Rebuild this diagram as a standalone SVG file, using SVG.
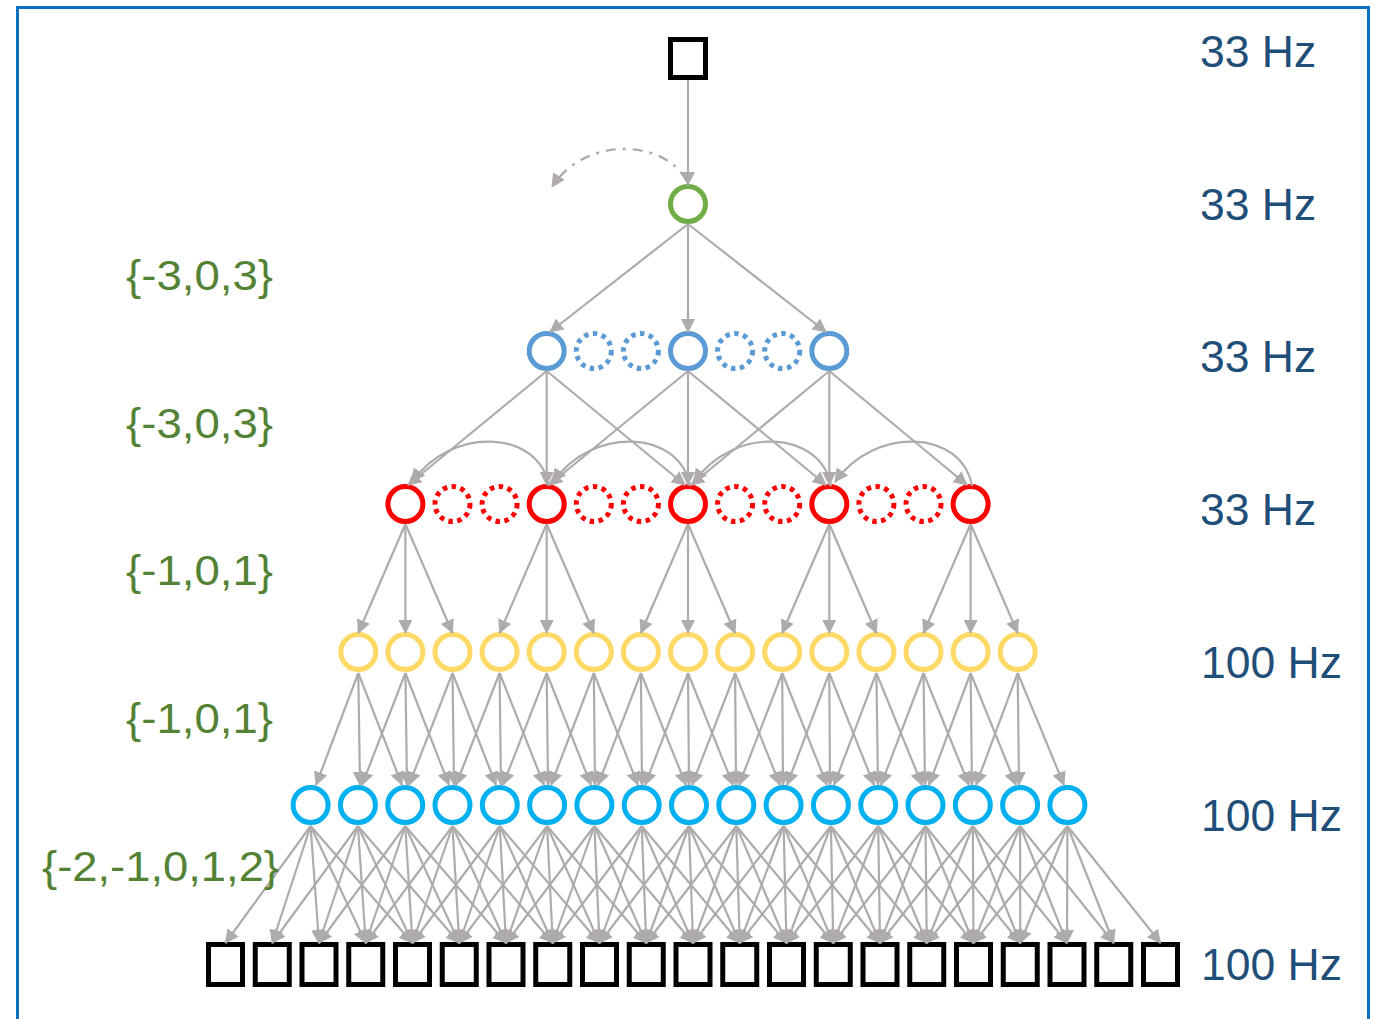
<svg xmlns="http://www.w3.org/2000/svg" width="1377" height="1019" viewBox="0 0 1377 1019">
  <style>
    .frame { fill: none; stroke: #0A70C0; stroke-width: 3; }
    .sq { fill: #FFFFFF; stroke: #000000; stroke-width: 5; }
    .node { fill: none; stroke-width: 5; }
    .g { stroke: #70AD47; }
    .b { stroke: #5B9BD5; }
    .r { stroke: #FF0000; }
    .y { stroke: #FFD966; }
    .c { stroke: #00B0F0; }
    .dot { stroke-dasharray: 4.5 4.5; }
    .e { fill: none; stroke: #AFABAB; stroke-width: 2.2; marker-end: url(#head); }
    .loop { stroke-width: 2.4; stroke-dasharray: 10 7 3 7; }
    .hz { font-family: "Liberation Sans", Arial, sans-serif; font-size: 44.5px; fill: #1F4E79; }
    .set { font-family: "Liberation Sans", Arial, sans-serif; font-size: 42px; fill: #548235; }
  </style>
  <defs>
    <marker id="head" viewBox="0 0 14 14" refX="13" refY="7" markerWidth="14" markerHeight="14" markerUnits="userSpaceOnUse" orient="auto">
      <path d="M0,0 L14,7 L0,14 z" fill="#AFABAB" stroke="none"/>
    </marker>
  </defs>

  <rect class="frame" x="17.5" y="7.5" width="1351" height="1040"/>

  <!-- top input -->
  <g id="input-top"><rect class="sq" x="670.5" y="39.5" width="35" height="38"/></g>

  <!-- root -->
  <g id="root"><circle class="node g" cx="688" cy="204" r="17.5"/></g>

  <!-- level 1 (blue) -->
  <g id="b-3"><circle class="node b" cx="546.7" cy="351" r="17.5"/></g>
  <g id="b-2"><circle class="node b dot" cx="593.8" cy="351" r="17.5"/></g>
  <g id="b-1"><circle class="node b dot" cx="640.9" cy="351" r="17.5"/></g>
  <g id="b0"><circle class="node b" cx="688" cy="351" r="17.5"/></g>
  <g id="b1"><circle class="node b dot" cx="735.1" cy="351" r="17.5"/></g>
  <g id="b2"><circle class="node b dot" cx="782.2" cy="351" r="17.5"/></g>
  <g id="b3"><circle class="node b" cx="829.3" cy="351" r="17.5"/></g>

  <!-- level 2 (red) -->
  <g id="r-6"><circle class="node r" cx="405.4" cy="504" r="17.5"/></g>
  <g id="r-5"><circle class="node r dot" cx="452.5" cy="504" r="17.5"/></g>
  <g id="r-4"><circle class="node r dot" cx="499.6" cy="504" r="17.5"/></g>
  <g id="r-3"><circle class="node r" cx="546.7" cy="504" r="17.5"/></g>
  <g id="r-2"><circle class="node r dot" cx="593.8" cy="504" r="17.5"/></g>
  <g id="r-1"><circle class="node r dot" cx="640.9" cy="504" r="17.5"/></g>
  <g id="r0"><circle class="node r" cx="688" cy="504" r="17.5"/></g>
  <g id="r1"><circle class="node r dot" cx="735.1" cy="504" r="17.5"/></g>
  <g id="r2"><circle class="node r dot" cx="782.2" cy="504" r="17.5"/></g>
  <g id="r3"><circle class="node r" cx="829.3" cy="504" r="17.5"/></g>
  <g id="r4"><circle class="node r dot" cx="876.4" cy="504" r="17.5"/></g>
  <g id="r5"><circle class="node r dot" cx="923.5" cy="504" r="17.5"/></g>
  <g id="r6"><circle class="node r" cx="970.6" cy="504" r="17.5"/></g>

  <!-- level 3 (yellow) -->
  <g id="y0"><circle class="node y" cx="358.3" cy="652" r="17.5"/></g>
  <g id="y1"><circle class="node y" cx="405.4" cy="652" r="17.5"/></g>
  <g id="y2"><circle class="node y" cx="452.5" cy="652" r="17.5"/></g>
  <g id="y3"><circle class="node y" cx="499.6" cy="652" r="17.5"/></g>
  <g id="y4"><circle class="node y" cx="546.7" cy="652" r="17.5"/></g>
  <g id="y5"><circle class="node y" cx="593.8" cy="652" r="17.5"/></g>
  <g id="y6"><circle class="node y" cx="640.9" cy="652" r="17.5"/></g>
  <g id="y7"><circle class="node y" cx="688" cy="652" r="17.5"/></g>
  <g id="y8"><circle class="node y" cx="735.1" cy="652" r="17.5"/></g>
  <g id="y9"><circle class="node y" cx="782.2" cy="652" r="17.5"/></g>
  <g id="y10"><circle class="node y" cx="829.3" cy="652" r="17.5"/></g>
  <g id="y11"><circle class="node y" cx="876.4" cy="652" r="17.5"/></g>
  <g id="y12"><circle class="node y" cx="923.5" cy="652" r="17.5"/></g>
  <g id="y13"><circle class="node y" cx="970.6" cy="652" r="17.5"/></g>
  <g id="y14"><circle class="node y" cx="1017.7" cy="652" r="17.5"/></g>

  <!-- level 4 (cyan) -->
  <g id="c0"><circle class="node c" cx="310.6" cy="805" r="17.5"/></g>
  <g id="c1"><circle class="node c" cx="357.9" cy="805" r="17.5"/></g>
  <g id="c2"><circle class="node c" cx="405.2" cy="805" r="17.5"/></g>
  <g id="c3"><circle class="node c" cx="452.5" cy="805" r="17.5"/></g>
  <g id="c4"><circle class="node c" cx="499.8" cy="805" r="17.5"/></g>
  <g id="c5"><circle class="node c" cx="547.1" cy="805" r="17.5"/></g>
  <g id="c6"><circle class="node c" cx="594.4" cy="805" r="17.5"/></g>
  <g id="c7"><circle class="node c" cx="641.7" cy="805" r="17.5"/></g>
  <g id="c8"><circle class="node c" cx="689" cy="805" r="17.5"/></g>
  <g id="c9"><circle class="node c" cx="736.3" cy="805" r="17.5"/></g>
  <g id="c10"><circle class="node c" cx="783.6" cy="805" r="17.5"/></g>
  <g id="c11"><circle class="node c" cx="830.9" cy="805" r="17.5"/></g>
  <g id="c12"><circle class="node c" cx="878.2" cy="805" r="17.5"/></g>
  <g id="c13"><circle class="node c" cx="925.5" cy="805" r="17.5"/></g>
  <g id="c14"><circle class="node c" cx="972.8" cy="805" r="17.5"/></g>
  <g id="c15"><circle class="node c" cx="1020.1" cy="805" r="17.5"/></g>
  <g id="c16"><circle class="node c" cx="1067.4" cy="805" r="17.5"/></g>

  <!-- output samples -->
  <g id="s0"><rect class="sq" x="208.5" y="944.5" width="34" height="40"/></g>
  <g id="s1"><rect class="sq" x="255.25" y="944.5" width="34" height="40"/></g>
  <g id="s2"><rect class="sq" x="302" y="944.5" width="34" height="40"/></g>
  <g id="s3"><rect class="sq" x="348.75" y="944.5" width="34" height="40"/></g>
  <g id="s4"><rect class="sq" x="395.5" y="944.5" width="34" height="40"/></g>
  <g id="s5"><rect class="sq" x="442.25" y="944.5" width="34" height="40"/></g>
  <g id="s6"><rect class="sq" x="489" y="944.5" width="34" height="40"/></g>
  <g id="s7"><rect class="sq" x="535.75" y="944.5" width="34" height="40"/></g>
  <g id="s8"><rect class="sq" x="582.5" y="944.5" width="34" height="40"/></g>
  <g id="s9"><rect class="sq" x="629.25" y="944.5" width="34" height="40"/></g>
  <g id="s10"><rect class="sq" x="676" y="944.5" width="34" height="40"/></g>
  <g id="s11"><rect class="sq" x="722.75" y="944.5" width="34" height="40"/></g>
  <g id="s12"><rect class="sq" x="769.5" y="944.5" width="34" height="40"/></g>
  <g id="s13"><rect class="sq" x="816.25" y="944.5" width="34" height="40"/></g>
  <g id="s14"><rect class="sq" x="863" y="944.5" width="34" height="40"/></g>
  <g id="s15"><rect class="sq" x="909.75" y="944.5" width="34" height="40"/></g>
  <g id="s16"><rect class="sq" x="956.5" y="944.5" width="34" height="40"/></g>
  <g id="s17"><rect class="sq" x="1003.25" y="944.5" width="34" height="40"/></g>
  <g id="s18"><rect class="sq" x="1050" y="944.5" width="34" height="40"/></g>
  <g id="s19"><rect class="sq" x="1096.75" y="944.5" width="34" height="40"/></g>
  <g id="s20"><rect class="sq" x="1143.5" y="944.5" width="34" height="40"/></g>

  <g id="connectors">
    <!-- input to root, and the recurrent loop -->
    <line class="e" x1="688" y1="80" x2="688" y2="185"/>
    <path class="e loop" d="M686 180 C665 140 585 135 552 187"/>

    <!-- root to level 1 -->
    <line class="e" x1="688" y1="224" x2="550" y2="332"/>
    <line class="e" x1="688" y1="224" x2="688" y2="332"/>
    <line class="e" x1="688" y1="224" x2="826" y2="332"/>

    <!-- level 1 to level 2 -->
    <line class="e" x1="546.7" y1="371" x2="408" y2="485"/>
    <line class="e" x1="546.7" y1="371" x2="546.7" y2="485"/>
    <line class="e" x1="546.7" y1="371" x2="685" y2="485"/>
    <line class="e" x1="688" y1="371" x2="549" y2="485"/>
    <line class="e" x1="688" y1="371" x2="688" y2="485"/>
    <line class="e" x1="688" y1="371" x2="826" y2="485"/>
    <line class="e" x1="829.3" y1="371" x2="691" y2="485"/>
    <line class="e" x1="829.3" y1="371" x2="829.3" y2="485"/>
    <line class="e" x1="829.3" y1="371" x2="967" y2="485"/>

    <!-- lateral links along level 2 -->
    <path class="e" d="M549 486 C539 430 452 425 412 482"/>
    <path class="e" d="M690 486 C680 430 593 425 553 482"/>
    <path class="e" d="M831 486 C821 430 734 425 694 482"/>
    <path class="e" d="M972 486 C962 430 875 425 835 482"/>

    <!-- level 2 to level 3 -->
    <line class="e" x1="405.4" y1="524" x2="358.3" y2="633"/>
    <line class="e" x1="405.4" y1="524" x2="405.4" y2="633"/>
    <line class="e" x1="405.4" y1="524" x2="452.5" y2="633"/>
    <line class="e" x1="546.7" y1="524" x2="499.6" y2="633"/>
    <line class="e" x1="546.7" y1="524" x2="546.7" y2="633"/>
    <line class="e" x1="546.7" y1="524" x2="593.8" y2="633"/>
    <line class="e" x1="688" y1="524" x2="640.9" y2="633"/>
    <line class="e" x1="688" y1="524" x2="688" y2="633"/>
    <line class="e" x1="688" y1="524" x2="735.1" y2="633"/>
    <line class="e" x1="829.3" y1="524" x2="782.2" y2="633"/>
    <line class="e" x1="829.3" y1="524" x2="829.3" y2="633"/>
    <line class="e" x1="829.3" y1="524" x2="876.4" y2="633"/>
    <line class="e" x1="970.6" y1="524" x2="923.5" y2="633"/>
    <line class="e" x1="970.6" y1="524" x2="970.6" y2="633"/>
    <line class="e" x1="970.6" y1="524" x2="1017.7" y2="633"/>

    <!-- level 3 to level 4 -->
    <line class="e" x1="358.3" y1="673" x2="316" y2="785"/>
    <line class="e" x1="358.3" y1="673" x2="360" y2="785"/>
    <line class="e" x1="358.3" y1="673" x2="402" y2="785"/>
    <line class="e" x1="405.4" y1="673" x2="362" y2="785"/>
    <line class="e" x1="405.4" y1="673" x2="407" y2="785"/>
    <line class="e" x1="405.4" y1="673" x2="449" y2="785"/>
    <line class="e" x1="452.5" y1="673" x2="409" y2="785"/>
    <line class="e" x1="452.5" y1="673" x2="454" y2="785"/>
    <line class="e" x1="452.5" y1="673" x2="496" y2="785"/>
    <line class="e" x1="499.6" y1="673" x2="456" y2="785"/>
    <line class="e" x1="499.6" y1="673" x2="501" y2="785"/>
    <line class="e" x1="499.6" y1="673" x2="544" y2="785"/>
    <line class="e" x1="546.7" y1="673" x2="503" y2="785"/>
    <line class="e" x1="546.7" y1="673" x2="548" y2="785"/>
    <line class="e" x1="546.7" y1="673" x2="591" y2="785"/>
    <line class="e" x1="593.8" y1="673" x2="551" y2="785"/>
    <line class="e" x1="593.8" y1="673" x2="595" y2="785"/>
    <line class="e" x1="593.8" y1="673" x2="638" y2="785"/>
    <line class="e" x1="640.9" y1="673" x2="598" y2="785"/>
    <line class="e" x1="640.9" y1="673" x2="642" y2="785"/>
    <line class="e" x1="640.9" y1="673" x2="686" y2="785"/>
    <line class="e" x1="688" y1="673" x2="645" y2="785"/>
    <line class="e" x1="688" y1="673" x2="689" y2="785"/>
    <line class="e" x1="688" y1="673" x2="733" y2="785"/>
    <line class="e" x1="735.1" y1="673" x2="692" y2="785"/>
    <line class="e" x1="735.1" y1="673" x2="736" y2="785"/>
    <line class="e" x1="735.1" y1="673" x2="780" y2="785"/>
    <line class="e" x1="782.2" y1="673" x2="739" y2="785"/>
    <line class="e" x1="782.2" y1="673" x2="783" y2="785"/>
    <line class="e" x1="782.2" y1="673" x2="827" y2="785"/>
    <line class="e" x1="829.3" y1="673" x2="787" y2="785"/>
    <line class="e" x1="829.3" y1="673" x2="830" y2="785"/>
    <line class="e" x1="829.3" y1="673" x2="874" y2="785"/>
    <line class="e" x1="876.4" y1="673" x2="834" y2="785"/>
    <line class="e" x1="876.4" y1="673" x2="878" y2="785"/>
    <line class="e" x1="876.4" y1="673" x2="922" y2="785"/>
    <line class="e" x1="923.5" y1="673" x2="881" y2="785"/>
    <line class="e" x1="923.5" y1="673" x2="925" y2="785"/>
    <line class="e" x1="923.5" y1="673" x2="969" y2="785"/>
    <line class="e" x1="970.6" y1="673" x2="929" y2="785"/>
    <line class="e" x1="970.6" y1="673" x2="972" y2="785"/>
    <line class="e" x1="970.6" y1="673" x2="1016" y2="785"/>
    <line class="e" x1="1017.7" y1="673" x2="976" y2="785"/>
    <line class="e" x1="1017.7" y1="673" x2="1019" y2="785"/>
    <line class="e" x1="1017.7" y1="673" x2="1064" y2="785"/>

    <!-- level 4 to output samples -->
    <line class="e" x1="310.6" y1="826" x2="225.5" y2="943"/>
    <line class="e" x1="310.6" y1="826" x2="272.25" y2="943"/>
    <line class="e" x1="310.6" y1="826" x2="319" y2="943"/>
    <line class="e" x1="310.6" y1="826" x2="365.75" y2="943"/>
    <line class="e" x1="310.6" y1="826" x2="412.5" y2="943"/>
    <line class="e" x1="357.9" y1="826" x2="272.25" y2="943"/>
    <line class="e" x1="357.9" y1="826" x2="319" y2="943"/>
    <line class="e" x1="357.9" y1="826" x2="365.75" y2="943"/>
    <line class="e" x1="357.9" y1="826" x2="412.5" y2="943"/>
    <line class="e" x1="357.9" y1="826" x2="459.25" y2="943"/>
    <line class="e" x1="405.2" y1="826" x2="319" y2="943"/>
    <line class="e" x1="405.2" y1="826" x2="365.75" y2="943"/>
    <line class="e" x1="405.2" y1="826" x2="412.5" y2="943"/>
    <line class="e" x1="405.2" y1="826" x2="459.25" y2="943"/>
    <line class="e" x1="405.2" y1="826" x2="506" y2="943"/>
    <line class="e" x1="452.5" y1="826" x2="365.75" y2="943"/>
    <line class="e" x1="452.5" y1="826" x2="412.5" y2="943"/>
    <line class="e" x1="452.5" y1="826" x2="459.25" y2="943"/>
    <line class="e" x1="452.5" y1="826" x2="506" y2="943"/>
    <line class="e" x1="452.5" y1="826" x2="552.75" y2="943"/>
    <line class="e" x1="499.8" y1="826" x2="412.5" y2="943"/>
    <line class="e" x1="499.8" y1="826" x2="459.25" y2="943"/>
    <line class="e" x1="499.8" y1="826" x2="506" y2="943"/>
    <line class="e" x1="499.8" y1="826" x2="552.75" y2="943"/>
    <line class="e" x1="499.8" y1="826" x2="599.5" y2="943"/>
    <line class="e" x1="547.1" y1="826" x2="459.25" y2="943"/>
    <line class="e" x1="547.1" y1="826" x2="506" y2="943"/>
    <line class="e" x1="547.1" y1="826" x2="552.75" y2="943"/>
    <line class="e" x1="547.1" y1="826" x2="599.5" y2="943"/>
    <line class="e" x1="547.1" y1="826" x2="646.25" y2="943"/>
    <line class="e" x1="594.4" y1="826" x2="506" y2="943"/>
    <line class="e" x1="594.4" y1="826" x2="552.75" y2="943"/>
    <line class="e" x1="594.4" y1="826" x2="599.5" y2="943"/>
    <line class="e" x1="594.4" y1="826" x2="646.25" y2="943"/>
    <line class="e" x1="594.4" y1="826" x2="693" y2="943"/>
    <line class="e" x1="641.7" y1="826" x2="552.75" y2="943"/>
    <line class="e" x1="641.7" y1="826" x2="599.5" y2="943"/>
    <line class="e" x1="641.7" y1="826" x2="646.25" y2="943"/>
    <line class="e" x1="641.7" y1="826" x2="693" y2="943"/>
    <line class="e" x1="641.7" y1="826" x2="739.75" y2="943"/>
    <line class="e" x1="689" y1="826" x2="599.5" y2="943"/>
    <line class="e" x1="689" y1="826" x2="646.25" y2="943"/>
    <line class="e" x1="689" y1="826" x2="693" y2="943"/>
    <line class="e" x1="689" y1="826" x2="739.75" y2="943"/>
    <line class="e" x1="689" y1="826" x2="786.5" y2="943"/>
    <line class="e" x1="736.3" y1="826" x2="646.25" y2="943"/>
    <line class="e" x1="736.3" y1="826" x2="693" y2="943"/>
    <line class="e" x1="736.3" y1="826" x2="739.75" y2="943"/>
    <line class="e" x1="736.3" y1="826" x2="786.5" y2="943"/>
    <line class="e" x1="736.3" y1="826" x2="833.25" y2="943"/>
    <line class="e" x1="783.6" y1="826" x2="693" y2="943"/>
    <line class="e" x1="783.6" y1="826" x2="739.75" y2="943"/>
    <line class="e" x1="783.6" y1="826" x2="786.5" y2="943"/>
    <line class="e" x1="783.6" y1="826" x2="833.25" y2="943"/>
    <line class="e" x1="783.6" y1="826" x2="880" y2="943"/>
    <line class="e" x1="830.9" y1="826" x2="739.75" y2="943"/>
    <line class="e" x1="830.9" y1="826" x2="786.5" y2="943"/>
    <line class="e" x1="830.9" y1="826" x2="833.25" y2="943"/>
    <line class="e" x1="830.9" y1="826" x2="880" y2="943"/>
    <line class="e" x1="830.9" y1="826" x2="926.75" y2="943"/>
    <line class="e" x1="878.2" y1="826" x2="786.5" y2="943"/>
    <line class="e" x1="878.2" y1="826" x2="833.25" y2="943"/>
    <line class="e" x1="878.2" y1="826" x2="880" y2="943"/>
    <line class="e" x1="878.2" y1="826" x2="926.75" y2="943"/>
    <line class="e" x1="878.2" y1="826" x2="973.5" y2="943"/>
    <line class="e" x1="925.5" y1="826" x2="833.25" y2="943"/>
    <line class="e" x1="925.5" y1="826" x2="880" y2="943"/>
    <line class="e" x1="925.5" y1="826" x2="926.75" y2="943"/>
    <line class="e" x1="925.5" y1="826" x2="973.5" y2="943"/>
    <line class="e" x1="925.5" y1="826" x2="1020.25" y2="943"/>
    <line class="e" x1="972.8" y1="826" x2="880" y2="943"/>
    <line class="e" x1="972.8" y1="826" x2="926.75" y2="943"/>
    <line class="e" x1="972.8" y1="826" x2="973.5" y2="943"/>
    <line class="e" x1="972.8" y1="826" x2="1020.25" y2="943"/>
    <line class="e" x1="972.8" y1="826" x2="1067" y2="943"/>
    <line class="e" x1="1020.1" y1="826" x2="926.75" y2="943"/>
    <line class="e" x1="1020.1" y1="826" x2="973.5" y2="943"/>
    <line class="e" x1="1020.1" y1="826" x2="1020.25" y2="943"/>
    <line class="e" x1="1020.1" y1="826" x2="1067" y2="943"/>
    <line class="e" x1="1020.1" y1="826" x2="1113.75" y2="943"/>
    <line class="e" x1="1067.4" y1="826" x2="973.5" y2="943"/>
    <line class="e" x1="1067.4" y1="826" x2="1020.25" y2="943"/>
    <line class="e" x1="1067.4" y1="826" x2="1067" y2="943"/>
    <line class="e" x1="1067.4" y1="826" x2="1113.75" y2="943"/>
    <line class="e" x1="1067.4" y1="826" x2="1160.5" y2="943"/>
  </g>

  <!-- sample rates -->
  <g id="rates">
    <text class="hz" x="1200" y="67">33 Hz</text>
    <text class="hz" x="1200" y="220">33 Hz</text>
    <text class="hz" x="1200" y="372">33 Hz</text>
    <text class="hz" x="1200" y="525">33 Hz</text>
    <text class="hz" x="1201" y="678">100 Hz</text>
    <text class="hz" x="1201" y="831">100 Hz</text>
    <text class="hz" x="1201" y="980">100 Hz</text>
  </g>

  <!-- dilation offsets -->
  <g id="offsets">
    <text class="set" x="126" y="290" textLength="147" lengthAdjust="spacingAndGlyphs">{-3,0,3}</text>
    <text class="set" x="126" y="438" textLength="147" lengthAdjust="spacingAndGlyphs">{-3,0,3}</text>
    <text class="set" x="126" y="585" textLength="147" lengthAdjust="spacingAndGlyphs">{-1,0,1}</text>
    <text class="set" x="126" y="733" textLength="147" lengthAdjust="spacingAndGlyphs">{-1,0,1}</text>
    <text class="set" x="42" y="881" textLength="237" lengthAdjust="spacingAndGlyphs">{-2,-1,0,1,2}</text>
  </g>
</svg>
